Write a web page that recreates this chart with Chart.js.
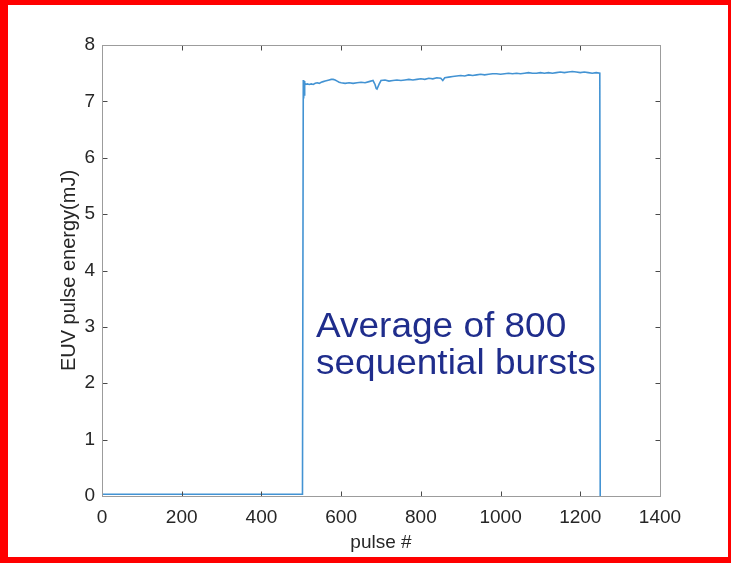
<!DOCTYPE html>
<html>
<head>
<meta charset="utf-8">
<script src="https://cdn.jsdelivr.net/npm/chart.js@4/dist/chart.umd.min.js"></script>
<style>
  html, body { margin: 0; padding: 0; background: #fff; }
  #wrap { position: relative; width: 731px; height: 563px; overflow: hidden; }
  #frame {
    position: absolute; left: 0; top: 0; right: 0; bottom: 0;
    border-style: solid; border-color: #ff0000;
    border-width: 5px 3px 6px 8px; pointer-events: none;
  }
  canvas { position: absolute; left: 0; top: 0; }
</style>
</head>
<body>
<div id="wrap">
  <canvas id="c" width="731" height="563"></canvas>
  <div id="frame"></div>
</div>
<script>
// Pulse index and averaged EUV pulse energy (mJ)
const pulseNumbers = [
  0, 100, 200, 300, 400, 503,
  504, 505, 506, 507, 508, 509, 510,
  515, 520, 525, 530, 535, 540, 545, 550, 555, 560, 565, 570, 575, 580, 585, 590, 595, 600,
  610, 620, 630, 640, 650, 660, 670, 680, 685, 688, 690, 695, 700,
  710, 720, 730, 740, 750, 760, 770, 780, 790, 800,
  810, 820, 830, 840, 850, 855, 860, 870, 880, 890, 900,
  910, 920, 930, 940, 950, 960, 970, 980, 990, 1000,
  1010, 1020, 1030, 1040, 1050, 1060, 1070, 1080, 1090, 1100,
  1110, 1120, 1130, 1140, 1150, 1160, 1170, 1180, 1190, 1200,
  1210, 1220, 1230, 1240, 1249, 1250
];
const pulseEnergy = [
  0.03, 0.03, 0.03, 0.03, 0.03, 0.03,
  0.03, 7.38, 7.05, 7.36, 7.10, 7.33, 7.30,
  7.31, 7.30, 7.31, 7.30, 7.32, 7.33, 7.32, 7.34, 7.35, 7.36, 7.37, 7.38, 7.39, 7.39, 7.38, 7.36, 7.34, 7.33,
  7.32, 7.33, 7.32, 7.33, 7.34, 7.33, 7.35, 7.37, 7.30, 7.23, 7.22, 7.30, 7.37,
  7.38, 7.36, 7.37, 7.38, 7.37, 7.38, 7.39, 7.38, 7.39, 7.40,
  7.39, 7.41, 7.40, 7.42, 7.41, 7.37, 7.42, 7.43, 7.44, 7.45, 7.46,
  7.45, 7.47, 7.46, 7.47, 7.48, 7.47, 7.48, 7.49, 7.49, 7.48,
  7.49, 7.50, 7.49, 7.50, 7.49, 7.50, 7.51, 7.50, 7.50, 7.51,
  7.50, 7.51, 7.50, 7.51, 7.52, 7.51, 7.52, 7.53, 7.52, 7.51,
  7.52, 7.51, 7.50, 7.51, 7.50, 0.00
];
const xTickValues = [0, 200, 400, 600, 800, 1000, 1200, 1400];
const yTickValues = [0, 1, 2, 3, 4, 5, 6, 7, 8];
const noteLines = ['Average of 800', 'sequential bursts'];

const FONT = "'Liberation Sans', Arial, Helvetica, sans-serif";
Chart.defaults.font.family = FONT;

// Box around the plot area with inward tick marks on all four sides, plus the note
const boxPlugin = {
  id: 'boxTicks',
  afterDatasetsDraw(chart) {
    const { ctx, chartArea: a, scales } = chart;
    const L = Math.round(a.left) + 0.5, R = Math.round(a.right) + 0.5;
    const T = Math.round(a.top) + 0.5, B = Math.round(a.bottom) + 0.5;
    const len = 5;
    ctx.save();
    ctx.lineWidth = 1;
    ctx.strokeStyle = '#4a4a4a';
    ctx.beginPath();
    xTickValues.forEach(v => {
      const x = Math.round(scales.x.getPixelForValue(v)) + 0.5;
      ctx.moveTo(x, B); ctx.lineTo(x, B - len);
      ctx.moveTo(x, T); ctx.lineTo(x, T + len);
    });
    yTickValues.forEach(v => {
      const y = Math.round(scales.y.getPixelForValue(v)) + 0.5;
      ctx.moveTo(L, y); ctx.lineTo(L + len, y);
      ctx.moveTo(R, y); ctx.lineTo(R - len, y);
    });
    ctx.stroke();
    ctx.strokeStyle = '#9c9c9c';
    ctx.strokeRect(L, T, R - L, B - T);
    ctx.restore();
  },
  afterDraw(chart) {
    const { ctx } = chart;
    ctx.save();
    ctx.fillStyle = '#1f2d8c';
    ctx.font = '35px ' + FONT;
    ctx.textBaseline = 'alphabetic';
    ctx.textAlign = 'left';
    ctx.translate(316, 0);
    ctx.scale(1.057, 1);
    ctx.fillText(noteLines[0], 0, 337);
    ctx.fillText(noteLines[1], 0, 374);
    ctx.restore();
  }
};

new Chart(document.getElementById('c'), {
  type: 'line',
  data: {
    datasets: [{
      data: pulseNumbers.map((p, i) => ({ x: p, y: pulseEnergy[i] })),
      borderColor: '#4393d3',
      borderWidth: 1.6,
      pointRadius: 0,
      tension: 0,
      fill: false
    }]
  },
  options: {
    responsive: false,
    animation: false,
    events: [],
    layout: { padding: { top: 45, right: 71, left: 0, bottom: 0 } },
    plugins: { legend: { display: false }, tooltip: { enabled: false } },
    scales: {
      x: {
        type: 'linear',
        min: 0, max: 1400,
        afterFit(s) { s.height = 67; },
        afterBuildTicks(s) { s.ticks = xTickValues.map(v => ({ value: v })); },
        grid: { display: false, drawTicks: false },
        border: { display: false },
        ticks: { color: '#262626', font: { size: 19 }, padding: 10, maxRotation: 0, callback: v => String(v) },
        title: { display: true, text: 'pulse #', color: '#262626', font: { size: 19 }, padding: { top: 0, bottom: 9 } }
      },
      y: {
        type: 'linear',
        min: 0, max: 8,
        afterFit(s) { s.width = 102; },
        afterBuildTicks(s) { s.ticks = yTickValues.map(v => ({ value: v })); },
        grid: { display: false, drawTicks: false },
        border: { display: false },
        ticks: { color: '#262626', font: { size: 19 }, padding: 7, callback: v => String(v) },
        title: { display: true, text: 'EUV pulse energy(mJ)', color: '#262626', font: { size: 20 }, padding: { top: 57, bottom: 0 } }
      }
    }
  },
  plugins: [boxPlugin]
});
</script>
</body>
</html>
